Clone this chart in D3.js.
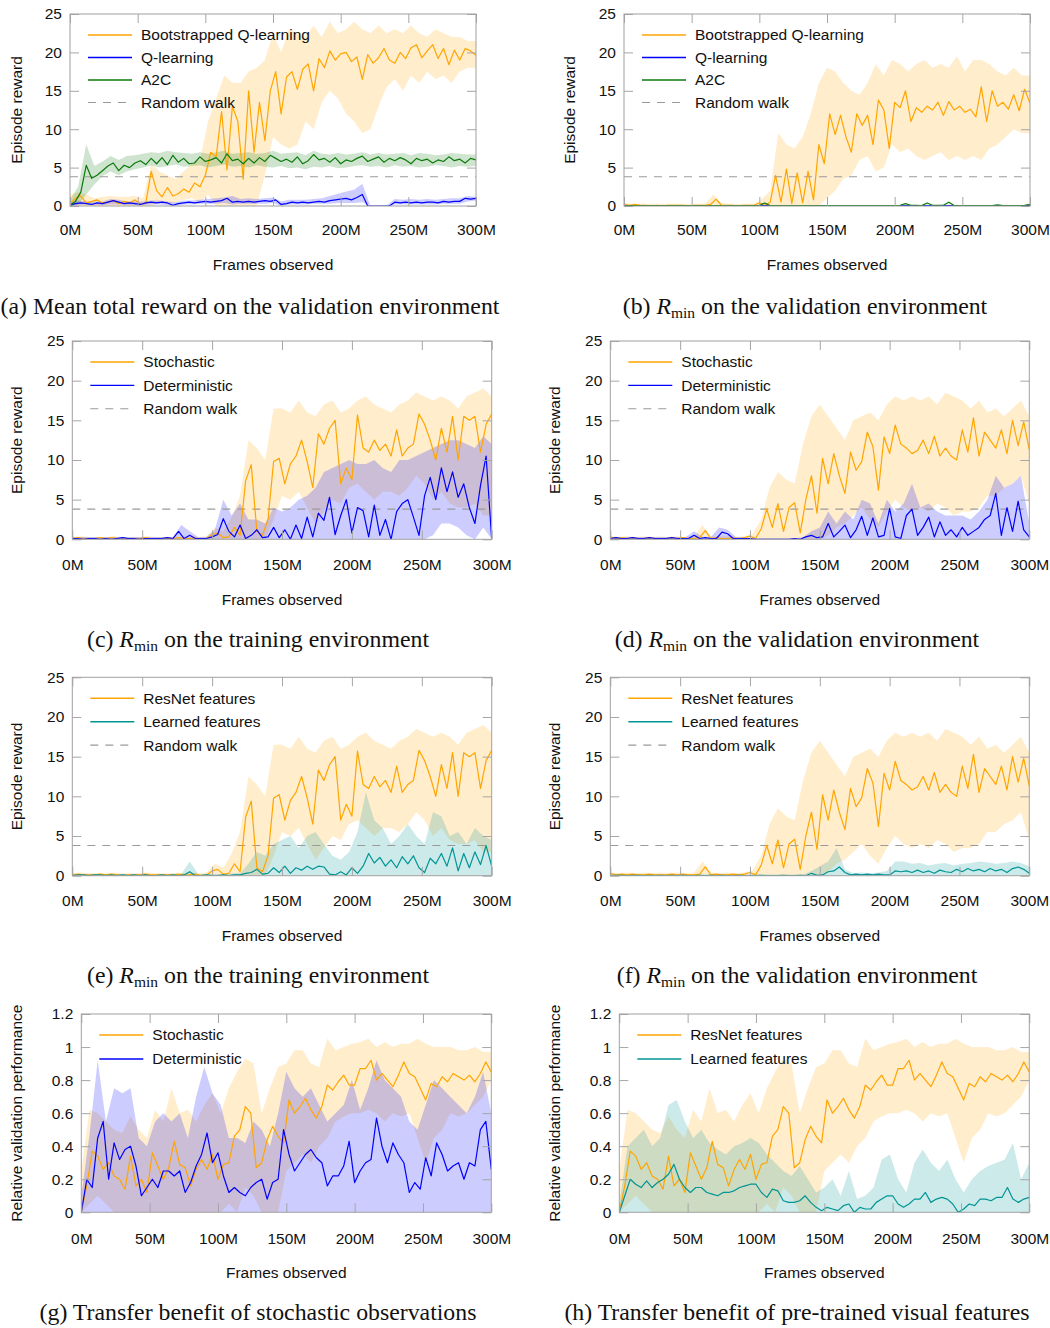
<!DOCTYPE html>
<html>
<head>
<meta charset="utf-8">
<script src="https://cdn.jsdelivr.net/npm/d3@7"></script>
<style>
  body { margin: 0; background: #fff; }
  svg { display: block; font-family: "Liberation Sans", Arial, Helvetica, sans-serif; }
  .tick line { stroke: #a6a6a6; }
  .tick text { font-family: "Liberation Sans", Arial, Helvetica, sans-serif; font-size: 15.5px; fill: #111; }
  .caption { font-family: "Liberation Serif", "Times New Roman", serif; font-size: 23.8px; fill: #111; }
</style>
</head>
<body>
<script>
////Axis ticks
const xTickValues = [0, 50, 100, 150, 200, 250, 300];
const xTickLabels = ['0M', '50M', '100M', '150M', '200M', '250M', '300M'];
const rewardTicks = [0, 5, 10, 15, 20, 25];
const rewardTickLabels = ['0', '5', '10', '15', '20', '25'];
const relTicks = [0, 0.2, 0.4, 0.6, 0.8, 1, 1.2];
const relTickLabels = ['0', '0.2', '0.4', '0.6', '0.8', '1', '1.2'];
const randomWalk = 3.8;

//// Data: means every 4M frames (0..300M), bands every 6M frames (0..300M)
// (a) mean total reward, validation
const aBootMean = [0.3, 1.0, 1.3, 0.4, 0.6, 0.8, 0.4, 0.5, 0.7, 0.3,
  0.6, 0.4, 0.8, 0.2, 0.4, 4.5, 2.0, 1.2, 2.4, 1.3,
  1.6, 2.2, 1.8, 3.0, 2.5, 4.0, 7.0, 6.4, 12.3, 4.7,
  13.0, 11.0, 3.5, 15.0, 7.0, 13.5, 8.5, 15.0, 17.5, 12.0,
  16.8, 17.5, 15.2, 17.8, 18.5, 15.0, 19.2, 18.0, 20.2, 19.0,
  19.8, 20.0, 18.8, 19.4, 16.5, 19.7, 18.6, 19.3, 20.5, 19.0,
  18.6, 20.0, 19.2, 20.6, 21.0, 19.3, 20.2, 21.0, 19.2, 20.5,
  18.4, 20.3, 19.0, 20.5, 20.2, 19.6];
const aBootHi = [1.5, 1.8, 1.5, 1.0, 1.2, 1.3, 1.2, 1.2, 1.3, 1.0,
  5.5, 4.5, 4.0, 3.5, 4.5, 5.5, 6.0, 11.0, 14.0, 17.0,
  16.0, 16.0, 17.5, 18.0, 19.0, 22.5, 20.0, 23.0, 22.5, 22.0,
  23.5, 22.0, 24.0, 22.5, 23.0, 24.0, 23.0, 22.5, 23.5, 22.5,
  23.0, 22.5, 23.5, 22.5, 22.0, 23.0, 22.5, 22.0, 22.0, 21.5,
  21.5];
const aBootLo = [0, 0, 0, 0, 0, 0, 0, 0, 0, 0,
  0, 0.5, 0.3, 0.5, 0.8, 1.0, 0.5, 1.5, 0, 0,
  0, 0, 0, 0, 4.0, 9.0, 8.0, 7.5, 8.0, 11.0,
  10.0, 13.5, 15.0, 14.0, 12.0, 11.0, 9.5, 10.0, 13.0, 15.5,
  16.5, 15.0, 17.0, 16.0, 17.5, 16.5, 17.0, 16.0, 17.5, 18.0,
  18.0];
const aQMean = [0.1, 0.3, 0.4, 0.3, 0.2, 0.4, 0.3, 0.5, 0.7, 0.5,
  0.3, 0.4, 0.3, 0.2, 0.4, 0.5, 0.4, 0.5, 0.4, 0.1,
  0.3, 0.4, 0.5, 0.4, 0.5, 0.6, 0.5, 0.6, 0.7, 1.0,
  0.5, 0.6, 0.5, 0.6, 0.5, 0.6, 0.7, 0.6, 0.8, 0.2,
  0.3, 0.5, 0.4, 0.5, 0.4, 0.5, 0.6, 0.5, 0.7, 0.8,
  0.9, 1.0, 0.8, 1.1, 1.5, 0.0, 0.0, 0.0, 0.0, 0.0,
  0.5, 0.4, 0.5, 0.4, 0.5, 0.4, 0.5, 0.5, 0.4, 0.6,
  0.5, 0.6, 0.6, 1.0, 0.9, 1.0];
const aQHi = [0.5, 0.7, 0.6, 0.6, 0.6, 0.9, 0.8, 0.6, 0.6, 0.6,
  0.7, 0.7, 0.6, 0.5, 0.7, 0.7, 0.8, 0.9, 1.0, 1.1,
  1.3, 0.9, 1.0, 0.9, 1.0, 1.1, 0.6, 0.8, 0.8, 0.8,
  0.9, 1.0, 1.3, 1.6, 1.9, 2.1, 2.9, 0.0, 0.0, 0.1,
  0.9, 0.8, 0.9, 0.8, 0.9, 0.8, 0.9, 1.0, 1.0, 1.3,
  1.2];
const aQLo = [0, 0.1, 0.2, 0.1, 0.1, 0.2, 0.2, 0.1, 0.1, 0.1,
  0.2, 0.2, 0.1, 0.0, 0.2, 0.2, 0.3, 0.3, 0.3, 0.4,
  0.2, 0.3, 0.3, 0.3, 0.3, 0.4, 0.0, 0.2, 0.2, 0.2,
  0.3, 0.3, 0.3, 0.4, 0.4, 0.4, 0.5, 0.0, 0.0, 0.0,
  0.2, 0.2, 0.2, 0.2, 0.2, 0.2, 0.3, 0.3, 0.3, 0.6,
  0.7];
const aA2CMean = [0.1, 0.6, 1.8, 5.3, 3.6, 4.0, 4.6, 5.2, 5.6, 4.6,
  5.3, 5.0, 5.6, 5.9, 5.4, 6.2, 5.5, 6.3, 5.4, 6.6,
  5.7, 6.2, 5.5, 5.6, 6.4, 5.8, 6.0, 6.3, 5.6, 6.8,
  5.9, 6.1, 5.5, 6.2, 5.6, 6.3, 5.8, 6.6, 6.2, 5.8,
  6.1, 5.7, 6.4, 5.5, 5.9, 6.7, 6.0, 6.2, 5.7, 6.3,
  5.5, 6.0, 5.8, 6.2, 6.5, 5.8, 6.1, 6.4, 5.7, 6.2,
  5.9, 6.3, 6.0, 5.5, 6.2, 5.9, 6.1, 5.6, 6.0, 5.8,
  6.4, 5.9, 6.1, 5.6, 6.2, 6.0];
const aA2CHi = [0.8, 2.5, 8.0, 5.2, 5.8, 6.5, 6.0, 6.5, 6.6, 6.8,
  7.0, 6.9, 7.2, 7.0, 6.9, 6.8, 7.0, 6.8, 7.0, 7.2,
  6.8, 6.9, 7.0, 6.8, 6.9, 7.2, 6.8, 6.9, 7.0, 6.6,
  7.2, 6.8, 6.7, 6.9, 6.7, 6.8, 7.0, 6.7, 6.9, 6.7,
  6.8, 6.9, 6.6, 6.9, 6.8, 6.6, 6.7, 6.9, 6.8, 6.7,
  6.7];
const aA2CLo = [0.0, 0.2, 1.5, 2.8, 3.9, 4.5, 4.0, 4.5, 4.8, 5.0,
  5.3, 5.0, 5.2, 5.4, 5.1, 5.2, 5.3, 5.0, 5.2, 5.4,
  5.1, 5.2, 5.0, 5.3, 5.1, 5.0, 5.2, 4.9, 5.0, 4.8,
  5.1, 5.0, 5.2, 4.9, 5.0, 5.2, 5.3, 5.1, 5.2, 5.0,
  5.3, 5.1, 5.2, 5.0, 5.1, 5.3, 5.2, 5.0, 5.2, 5.1,
  5.2];

// (b) R_min, validation
const bBootMean = [0.2, 0.1, 0.2, 0.1, 0.1, 0.0, 0.1, 0.0, 0.1, 0.1,
  0.1, 0.1, 0.0, 0.1, 0.1, 0.1, 0.2, 0.9, 0.1, 0.1,
  0.1, 0.0, 0.1, 0.1, 0.1, 0.4, 0.1, 0.5, 4.0, 0.5,
  4.8, 0.3, 4.3, 0.4, 4.5, 0.8, 8.0, 5.5, 12.0, 9.3,
  11.8, 9.0, 7.0, 12.0, 10.5, 11.8, 8.0, 13.8, 12.5, 7.5,
  13.5, 12.8, 15.0, 11.0, 12.8, 12.2, 13.0, 12.5, 13.5, 11.8,
  13.6, 12.5, 13.0, 12.2, 12.6, 11.6, 15.5, 11.0, 15.0, 13.0,
  13.5, 12.6, 14.5, 12.4, 15.2, 13.4];
const bBootHi = [0.4, 0.3, 0.3, 0.3, 0.3, 0.3, 0.3, 0.3, 0.3, 0.3,
  0.3, 1.5, 0.4, 0.3, 0.3, 0.3, 0.3, 0.9, 2.0, 9.5,
  8.0, 7.5, 9.0, 12.0, 16.0, 18.0, 17.5, 16.0, 15.0, 14.5,
  16.0, 18.5, 17.0, 19.0, 18.5, 17.5, 18.5, 19.0, 18.0, 18.5,
  18.0, 19.5, 17.5, 19.0, 19.0, 18.5, 17.5, 17.0, 18.0, 17.0,
  17.0];
const bBootLo = [0, 0, 0, 0, 0, 0, 0, 0, 0, 0,
  0, 0, 0, 0, 0, 0, 0, 0, 0, 0,
  0, 0, 0, 0, 0, 1.0, 2.0, 3.5, 4.0, 6.0,
  6.5, 4.5, 5.0, 8.0, 7.0, 7.5, 6.5, 6.0, 6.5, 7.0,
  6.0, 6.5, 6.0, 6.5, 6.0, 7.5, 8.0, 9.0, 10.0, 9.5,
  9.5];
const bQMean = [0.05, 0.04, 0.05, 0.05, 0.04, 0.05, 0.05, 0.06, 0.05, 0.05,
  0.06, 0.05, 0.05, 0.06, 0.05, 0.05];
const bA2CMean = [0.05, 0.05, 0.05, 0.05, 0.05, 0.05, 0.05, 0.05, 0.05, 0.05,
  0.05, 0.05, 0.05, 0.05, 0.05, 0.05, 0.05, 0.05, 0.05, 0.05,
  0.05, 0.05, 0.05, 0.05, 0.05, 0.1, 0.4, 0.05, 0.05, 0.05,
  0.05, 0.05, 0.05, 0.05, 0.05, 0.05, 0.05, 0.05, 0.05, 0.05,
  0.05, 0.05, 0.05, 0.05, 0.05, 0.05, 0.05, 0.05, 0.05, 0.05,
  0.05, 0.1, 0.3, 0.1, 0.1, 0.05, 0.4, 0.1, 0.1, 0.1,
  0.5, 0.05, 0.05, 0.05, 0.05, 0.05, 0.05, 0.05, 0.05, 0.15,
  0.05, 0.05, 0.05, 0.05, 0.1, 0.2];

// (c) R_min, training: stochastic vs deterministic  (stochastic reused in (e))
const cStochMean = [0.1, 0.2, 0.1, 0.1, 0.1, 0.2, 0.1, 0.2, 0.1, 0.0,
  0.1, 0.1, 0.1, 0.2, 0.1, 0.1, 0.1, 0.1, 0.1, 0.2,
  0.1, 0.1, 0.2, 0.0, 0.1, 0.6, 0.8, 0.2, 0.3, 1.5,
  0.5, 7.4, 9.4, 1.0, 0.5, 2.5, 9.8, 10.2, 7.0, 9.5,
  10.5, 12.5, 9.8, 6.5, 13.3, 12.0, 14.0, 15.0, 7.0, 9.0,
  7.5, 15.7, 11.5, 11.0, 12.5, 11.2, 12.0, 10.5, 13.8, 10.5,
  11.5, 12.0, 15.8, 14.5, 12.5, 10.0, 14.0, 11.0, 15.5, 10.0,
  15.5, 15.0, 15.5, 11.0, 14.5, 15.8];
const cStochHi = [0.3, 0.4, 0.3, 0.3, 0.3, 0.4, 0.3, 0.3, 0.3, 0.4,
  0.3, 0.3, 0.3, 0.3, 0.4, 0.3, 0.4, 1.5, 1.0, 2.8,
  5.5, 12.5, 11.5, 10.0, 16.5, 16.5, 16.0, 17.5, 16.0, 15.5,
  17.0, 17.5, 16.0, 16.5, 17.5, 18.0, 17.0, 16.5, 16.0, 17.0,
  17.5, 18.5, 18.0, 17.5, 18.0, 17.5, 16.5, 18.0, 18.5, 19.0,
  18.0];
const cStochLo = [0, 0, 0, 0, 0, 0, 0, 0, 0, 0,
  0, 0, 0, 0, 0, 0, 0, 0, 0, 0,
  0, 0, 0, 0, 2.5, 5.5, 5.0, 6.0, 4.0, 2.0,
  3.5, 5.0, 4.5, 6.5, 7.0, 6.0, 5.0, 6.0, 6.0, 5.5,
  6.5, 8.0, 7.0, 5.0, 6.0, 4.5, 4.0, 4.0, 4.5, 3.0,
  3.0];
const cDetMean = [0.1, 0.1, 0.0, 0.1, 0.1, 0.0, 0.1, 0.0, 0.1, 0.2,
  0.1, 0.1, 0.0, 0.1, 0.1, 0.1, 0.1, 0.2, 0.1, 1.0,
  0.1, 0.5, 0.1, 0.1, 0.1, 0.3, 0.6, 2.6, 1.0, 0.3,
  1.8, 0.1, 0.5, 1.2, 0.2, 0.3, 1.5, 0.2, 1.2, 0.0,
  1.8, 0.1, 2.8, 0.3, 3.3, 2.4, 5.3, 0.6, 3.0, 5.0,
  0.8, 4.0, 3.6, 0.3, 4.3, 0.5, 2.5, 0.0, 3.5, 4.5,
  5.0, 2.8, 0.5, 5.5, 7.8, 5.0, 9.0, 6.0, 8.5, 5.3,
  7.0, 4.0, 2.0, 6.8, 10.5, 0.0];
const cDetHi = [0.3, 0.3, 0.3, 0.3, 0.3, 0.3, 0.3, 0.3, 0.3, 0.3,
  0.3, 0.3, 0.3, 1.8, 1.0, 0.3, 0.3, 1.2, 5.0, 3.0,
  4.5, 2.5, 2.5, 2.0, 4.0, 3.5, 4.0, 5.0, 5.5, 6.5,
  8.5, 9.0, 9.5, 10.0, 9.5, 9.5, 10.0, 9.0, 8.5, 10.0,
  10.0, 10.5, 11.0, 11.5, 12.0, 12.5, 12.5, 12.0, 11.5, 13.0,
  12.0];
const cDetLo = [0, 0, 0, 0, 0, 0, 0, 0, 0, 0,
  0, 0, 0, 0, 0, 0, 0, 0, 0, 0,
  0, 0, 0, 0, 0, 0, 0, 0, 0, 0,
  0, 0, 0, 0, 0, 0, 0, 0, 0, 0,
  0, 0, 0, 0.5, 2.0, 2.0, 1.5, 0.5, 0, 1.5,
  0];

// (d) R_min, validation: stochastic vs deterministic  (stochastic reused in (f))
const dStochMean = [0.3, 0.1, 0.2, 0.1, 0.2, 0.1, 0.1, 0.2, 0.1, 0.1,
  0.1, 0.2, 0.1, 0.2, 0.1, 0.1, 0.2, 1.1, 0.1, 0.2,
  0.1, 0.1, 0.2, 0.1, 0.2, 0.4, 0.1, 1.3, 3.8, 1.5,
  4.5, 1.0, 4.0, 4.6, 0.8, 5.0, 8.0, 3.3, 10.2, 7.0,
  10.8, 8.0, 5.8, 11.0, 8.7, 9.8, 13.5, 11.7, 6.2, 12.9,
  10.8, 14.4, 12.0, 11.5, 10.8, 11.2, 12.5, 10.8, 13.0, 10.5,
  11.5, 10.5, 10.0, 13.8, 11.0, 15.3, 10.5, 13.5, 12.5, 11.5,
  13.8, 10.8, 15.0, 11.8, 14.8, 11.3];
const dStochHi = [0.4, 0.3, 0.4, 0.3, 0.4, 0.3, 0.4, 0.3, 0.4, 0.3,
  0.4, 1.8, 0.4, 0.3, 0.4, 0.3, 0.4, 0.7, 2.5, 6.5,
  8.5, 7.5, 7.0, 12.0, 15.5, 17.0, 15.5, 14.0, 12.5, 15.0,
  15.5, 16.0, 15.0, 17.0, 18.0, 17.5, 18.0, 17.5, 18.0, 17.0,
  18.5, 18.0, 17.5, 16.5, 17.5, 16.0, 16.5, 15.5, 16.5, 17.5,
  15.5];
const dStochLo = [0, 0, 0, 0, 0, 0, 0, 0, 0, 0,
  0, 0, 0, 0, 0, 0, 0, 0, 0, 0,
  0, 0, 0, 0, 0, 0, 0.5, 1.5, 2.0, 3.0,
  4.0, 2.5, 1.5, 3.5, 5.0, 4.0, 3.5, 4.0, 3.5, 4.5,
  4.0, 3.0, 3.5, 3.5, 4.0, 5.5, 5.5, 6.5, 7.0, 8.0,
  4.5];
const dDetMean = [0.1, 0.2, 0.1, 0.1, 0.2, 0.1, 0.1, 0.2, 0.1, 0.1,
  0.1, 0.2, 0.1, 0.1, 0.1, 0.5, 0.1, 0.2, 0.1, 0.1,
  0.9, 0.7, 0.1, 0.1, 0.1, 0.1, 0.0, 0.0, 0.0, 0.0,
  0.0, 0.0, 0.0, 0.1, 0.0, 0.3, 0.5, 0.2, 0.3, 2.0,
  0.3, 1.0, 1.8, 0.2, 1.2, 2.9, 0.5, 2.7, 0.3, 0.5,
  3.9, 0.3, 0.1, 3.0, 3.8, 0.5, 1.5, 2.8, 0.3, 2.2,
  0.5, 1.2, 0.3, 1.5, 0.5, 1.0, 1.5, 2.5, 3.0, 5.8,
  0.5, 4.0, 1.0, 4.8, 1.2, 0.3];
const dDetHi = [0.3, 0.3, 0.3, 0.3, 0.3, 0.3, 0.3, 0.3, 0.3, 0.3,
  1.0, 0.3, 0.3, 1.5, 1.2, 0.3, 0.3, 0.1, 0.1, 0.1,
  0.1, 0.1, 0.1, 0.3, 1.0, 1.5, 3.5, 2.0, 3.5, 2.5,
  5.0, 4.5, 2.0, 5.0, 3.5, 4.5, 7.0, 4.0, 4.5, 3.5,
  3.0, 3.0, 3.0, 2.5, 3.5, 5.0, 8.0, 6.5, 7.0, 8.0,
  2.0];

// (e) learned features, training
const eLearnedMean = [0.0, 0.1, 0.1, 0.0, 0.1, 0.1, 0.0, 0.1, 0.0, 0.1,
  0.0, 0.1, 0.0, 0.1, 0.0, 0.0, 0.1, 0.0, 0.1, 0.0,
  0.1, 0.5, 0.0, 0.0, 0.1, 0.0, 0.0, 0.1, 0.0, 0.1,
  0.1, 0.3, 0.4, 0.8, 0.2, 0.3, 1.0, 0.4, 1.2, 0.3,
  1.0, 0.7, 1.2, 0.8, 1.2, 1.1, 0.2, 0.1, 0.5, 0.1,
  1.0, 0.3, 1.2, 2.8, 1.6, 2.3, 1.2, 2.0, 1.0, 2.4,
  1.5, 2.5, 1.0, 0.4, 2.2, 1.5, 2.8, 1.2, 3.5, 0.6,
  2.8, 1.0, 3.0, 1.4, 3.8, 1.2];
const eLearnedHi = [0.2, 0.2, 0.2, 0.2, 0.2, 0.2, 0.2, 0.2, 0.2, 0.2,
  0.2, 0.2, 0.2, 0.2, 1.8, 0.2, 0.2, 0.2, 0.2, 0.3,
  0.3, 1.5, 3.0, 2.5, 4.0, 4.5, 5.0, 3.5, 5.0, 5.5,
  4.0, 2.5, 2.0, 3.0, 5.5, 10.5, 7.0, 6.0, 4.0, 5.0,
  6.5, 5.0, 4.0, 8.0, 7.5, 5.0, 5.5, 4.0, 6.0, 5.0,
  4.5];

// (f) learned features, validation
const fLearnedMean = [0.0, 0.05, 0.05, 0.0, 0.05, 0.05, 0.0, 0.05, 0.0, 0.05,
  0.0, 0.05, 0.0, 0.05, 0.0, 0.0, 0.05, 0.0, 0.05, 0.0,
  0.05, 0.0, 0.0, 0.05, 0.0, 0.0, 0.0, 0.05, 0.0, 0.0,
  0.0, 0.05, 0.0, 0.0, 0.05, 0.0, 0.3, 0.05, 0.1, 0.5,
  0.6, 1.1, 0.4, 0.1, 0.2, 0.1, 0.2, 0.1, 0.2, 0.1,
  0.1, 0.6, 0.5, 0.6, 0.4, 0.7, 0.4, 0.6, 0.3, 0.7,
  0.5, 0.4, 0.8, 0.5, 0.9, 0.6, 0.8, 0.5, 0.9, 0.6,
  0.8, 0.4, 0.9, 1.1, 0.8, 0.3];
const fLearnedHi = [0.15, 0.15, 0.15, 0.15, 0.15, 0.15, 0.15, 0.15, 0.15, 0.15,
  0.15, 0.15, 0.15, 0.15, 0.15, 0.15, 0.15, 0.15, 0.15, 0.15,
  0.15, 0.15, 0.15, 0.15, 0.6, 1.2, 1.8, 3.5, 0.8, 0.3,
  0.4, 0.3, 0.4, 0.6, 1.8, 1.8, 1.5, 1.6, 1.3, 1.5,
  1.6, 1.3, 1.5, 1.6, 1.8, 1.7, 1.5, 1.6, 1.8, 1.6,
  1.2];

// (g) relative validation performance: stochastic vs deterministic (stochastic reused in (h))
const gStochMean = [0.0, 0.16, 0.37, 0.34, 0.26, 0.3, 0.22, 0.2, 0.14, 0.34,
  0.16, 0.2, 0.12, 0.36, 0.28, 0.2, 0.27, 0.43, 0.29, 0.27,
  0.16, 0.26, 0.32, 0.26, 0.35, 0.2, 0.29, 0.3, 0.46, 0.5,
  0.64, 0.6, 0.27, 0.3, 0.44, 0.52, 0.46, 0.42, 0.68, 0.6,
  0.64, 0.69, 0.62, 0.57, 0.64, 0.77, 0.74, 0.79, 0.83, 0.77,
  0.77, 0.87, 0.87, 0.92, 0.8, 0.84, 0.8, 0.76, 0.83, 0.91,
  0.84, 0.82, 0.75, 0.68, 0.78, 0.76, 0.82, 0.79, 0.84, 0.82,
  0.8, 0.83, 0.79, 0.84, 0.91, 0.85];
const gStochHi = [0.25, 0.62, 0.6, 0.55, 0.5, 0.48, 0.58, 0.5, 0.45, 0.62,
  0.55, 0.75, 0.6, 0.62, 0.55, 0.65, 0.72, 0.6, 0.75, 0.85,
  0.93, 0.9, 0.6, 0.75, 0.88, 0.9, 0.98, 0.98, 0.9, 0.88,
  1.05, 0.98, 1.0, 1.02, 1.03, 1.05, 1.0, 1.03, 1.0, 1.02,
  1.02, 1.05, 1.02, 1.0, 1.0, 1.0, 0.98, 0.98, 1.0, 0.97,
  0.97];
const gStochLo = [0, 0.05, 0.1, 0.05, 0, 0, 0, 0, 0, 0,
  0, 0, 0, 0, 0, 0, 0, 0, 0.05, 0,
  0.15, 0.1, 0, 0, 0, 0.25, 0.3, 0.35, 0.3, 0.4,
  0.45, 0.55, 0.58, 0.6, 0.6, 0.62, 0.6, 0.55, 0.6, 0.58,
  0.6, 0.45, 0.3, 0.45, 0.5, 0.6, 0.58, 0.6, 0.65, 0.7,
  0.8];
const gDetMean = [0.0, 0.2, 0.15, 0.45, 0.55, 0.2, 0.42, 0.32, 0.38, 0.4,
  0.28, 0.1, 0.15, 0.2, 0.15, 0.25, 0.25, 0.22, 0.25, 0.12,
  0.18, 0.28, 0.35, 0.48, 0.3, 0.36, 0.22, 0.12, 0.15, 0.12,
  0.1, 0.15, 0.18, 0.2, 0.08, 0.18, 0.2, 0.5, 0.35, 0.25,
  0.3, 0.35, 0.38, 0.33, 0.3, 0.16, 0.22, 0.22, 0.28, 0.43,
  0.18, 0.25, 0.3, 0.32, 0.57, 0.4, 0.3, 0.42, 0.35, 0.3,
  0.12, 0.18, 0.14, 0.33, 0.22, 0.42, 0.35, 0.25, 0.28, 0.3,
  0.2, 0.3, 0.28, 0.5, 0.55, 0.26];
const gDetHi = [0.1, 0.47, 0.92, 0.55, 0.75, 0.72, 0.75, 0.45, 0.4, 0.55,
  0.6, 0.55, 0.6, 0.45, 0.7, 0.88, 0.72, 0.65, 0.45, 0.45,
  0.42, 0.55, 0.5, 0.4, 0.6, 0.85, 0.75, 0.7, 0.75, 0.65,
  0.55, 0.6, 0.65, 0.8, 0.62, 0.75, 0.92, 0.8, 0.75, 0.7,
  0.55, 0.5, 0.65, 0.8, 0.75, 0.7, 0.65, 0.6, 0.7, 0.85,
  0.6];

// (h) learned features, relative validation performance
const hLearnedMean = [0.0, 0.1, 0.2, 0.17, 0.15, 0.19, 0.15, 0.18, 0.2, 0.23,
  0.29, 0.2, 0.15, 0.12, 0.15, 0.15, 0.12, 0.11, 0.1, 0.12,
  0.12, 0.13, 0.15, 0.16, 0.17, 0.17, 0.12, 0.09, 0.14, 0.13,
  0.07, 0.06, 0.06, 0.07, 0.1, 0.06, 0.03, 0.01, 0.03, 0.02,
  0.01, 0.04, 0.05, 0.0, 0.03, 0.02, 0.02, 0.06, 0.08, 0.1,
  0.1, 0.05, 0.03, 0.05, 0.08, 0.08, 0.12, 0.06, 0.08, 0.09,
  0.08, 0.05, 0.0, 0.02, 0.05, 0.04, 0.08, 0.08, 0.07, 0.09,
  0.09, 0.15, 0.08, 0.06, 0.08, 0.09];
const hLearnedHi = [0.05, 0.4, 0.45, 0.5, 0.4, 0.45, 0.65, 0.68, 0.55, 0.45,
  0.5, 0.42, 0.38, 0.35, 0.4, 0.42, 0.45, 0.42, 0.35, 0.3,
  0.25, 0.22, 0.28, 0.2, 0.12, 0.15, 0.2, 0.1, 0.25, 0.08,
  0.1, 0.15, 0.32, 0.35, 0.2, 0.12, 0.3, 0.38, 0.3, 0.25,
  0.32, 0.2, 0.12, 0.2, 0.25, 0.28, 0.3, 0.32, 0.42, 0.2,
  0.3];

//// Layout
const width = 1050;
const height = 1328;
const tickLen = 9;
const fontSize = 15.5;
const colors = { orange: '#ffa500', blue: '#0000ff', green: '#0b7a0b', teal: '#009494', walk: '#9a9a9a' };

const svg = d3.select('body').append('svg')
  .attr('width', width)
  .attr('height', height);

const rows = [
  { top: 14, bottom: 206, tickPad: 18.3, titleOff: 63.5, gap: 22.5 },
  { top: 341, bottom: 539.3, tickPad: 19.8, titleOff: 65.7, gap: 23.4 },
  { top: 677.3, bottom: 875.7, tickPad: 19.8, titleOff: 65.7, gap: 23.4 },
  { top: 1014, bottom: 1212.3, tickPad: 20.3, titleOff: 66, gap: 24 }
];

const rminCaption = (tag, env) => [{ t: tag + ' ' }, { t: 'R', italic: true }, { t: 'min', sub: true }, { t: ' on the ' + env + ' environment' }];

const boot = [
  { label: 'Bootstrapped Q-learning', color: colors.orange },
  { label: 'Q-learning', color: colors.blue },
  { label: 'A2C', color: colors.green }
];
const stochDet = [{ label: 'Stochastic', color: colors.orange }, { label: 'Deterministic', color: colors.blue }];
const resLearned = [{ label: 'ResNet features', color: colors.orange }, { label: 'Learned features', color: colors.teal }];

const panels = [
  { row: 0, left: 70, right: 476, titleX: 17, capX: 250, legend: boot, walk: true,
    series: [
      { mean: aBootMean, hi: aBootHi, lo: aBootLo, color: colors.orange },
      { mean: aQMean, hi: aQHi, lo: aQLo, color: colors.blue },
      { mean: aA2CMean, hi: aA2CHi, lo: aA2CLo, color: colors.green }],
    caption: [{ t: '(a) Mean total reward on the validation environment' }] },
  { row: 0, left: 624, right: 1030, titleX: 570, capX: 805, legend: boot, walk: true,
    series: [
      { mean: bBootMean, hi: bBootHi, lo: bBootLo, color: colors.orange },
      { mean: bQMean, color: colors.blue },
      { mean: bA2CMean, color: colors.green }],
    caption: rminCaption('(b)', 'validation') },
  { row: 1, left: 72.3, right: 491.7, titleX: 17, capX: 258, legend: stochDet, walk: true,
    series: [
      { mean: cStochMean, hi: cStochHi, lo: cStochLo, color: colors.orange },
      { mean: cDetMean, hi: cDetHi, lo: cDetLo, color: colors.blue }],
    caption: rminCaption('(c)', 'training') },
  { row: 1, left: 610.3, right: 1029.3, titleX: 555, capX: 797, legend: stochDet, walk: true,
    series: [
      { mean: dStochMean, hi: dStochHi, lo: dStochLo, color: colors.orange },
      { mean: dDetMean, hi: dDetHi, color: colors.blue }],
    caption: rminCaption('(d)', 'validation') },
  { row: 2, left: 72.3, right: 491.7, titleX: 17, capX: 258, legend: resLearned, walk: true,
    series: [
      { mean: cStochMean, hi: cStochHi, lo: cStochLo, color: colors.orange },
      { mean: eLearnedMean, hi: eLearnedHi, color: colors.teal }],
    caption: rminCaption('(e)', 'training') },
  { row: 2, left: 610.3, right: 1029.3, titleX: 555, capX: 797, legend: resLearned, walk: true,
    series: [
      { mean: dStochMean, hi: dStochHi, lo: dStochLo, color: colors.orange },
      { mean: fLearnedMean, hi: fLearnedHi, color: colors.teal }],
    caption: rminCaption('(f)', 'validation') },
  { row: 3, left: 81.3, right: 491.3, titleX: 17, capX: 258, legend: stochDet, walk: false, rel: true,
    series: [
      { mean: gStochMean, hi: gStochHi, lo: gStochLo, color: colors.orange },
      { mean: gDetMean, hi: gDetHi, color: colors.blue }],
    caption: [{ t: '(g) Transfer benefit of stochastic observations' }] },
  { row: 3, left: 619.3, right: 1029.3, titleX: 555, capX: 797, legend: resLearned, walk: false, rel: true,
    series: [
      { mean: gStochMean, hi: gStochHi, lo: gStochLo, color: colors.orange },
      { mean: hLearnedMean, hi: hLearnedHi, color: colors.teal }],
    caption: [{ t: '(h) Transfer benefit of pre-trained visual features' }] }
];

panels.forEach((p, idx) => drawPanel(p, idx));

function drawPanel(p, idx) {
  const r = rows[p.row];
  const yTicks = p.rel ? relTicks : rewardTicks;
  const yLabels = p.rel ? relTickLabels : rewardTickLabels;
  const x = d3.scaleLinear().domain([0, 300]).range([p.left, p.right]);
  const y = d3.scaleLinear().domain([0, p.rel ? 1.2 : 25]).range([r.bottom, r.top]);
  const xi = arr => (d, i) => x(i * 300 / (arr.length - 1));

  const g = svg.append('g');
  const clipId = 'clip-' + idx;
  g.append('clipPath').attr('id', clipId).append('rect')
    .attr('x', p.left).attr('y', r.top)
    .attr('width', p.right - p.left).attr('height', r.bottom - r.top);
  const plot = g.append('g').attr('clip-path', `url(#${clipId})`);

  // bands
  p.series.filter(s => s.hi).forEach(s => {
    const area = d3.area()
      .x(xi(s.hi))
      .y0((d, i) => y(s.lo ? s.lo[i] : 0))
      .y1(d => y(d));
    plot.append('path').datum(s.hi)
      .attr('d', area)
      .attr('fill', s.color)
      .attr('fill-opacity', 0.2);
  });

  if (p.walk) {
    plot.append('path').datum([0, 300])
      .attr('d', d3.line().x(d => x(d)).y(() => y(randomWalk)))
      .attr('stroke', colors.walk)
      .attr('stroke-width', 1.1)
      .attr('stroke-dasharray', '8,7')
      .attr('fill', 'none');
  }

  // mean lines
  p.series.forEach(s => {
    plot.append('path').datum(s.mean)
      .attr('d', d3.line().x(xi(s.mean)).y(d => y(d)))
      .attr('fill', 'none')
      .attr('stroke', s.color)
      .attr('stroke-width', 1.2)
      .attr('stroke-linejoin', 'round');
  });

  // axes (ticks inward on all four sides)
  const noDomain = a => a.select('.domain').remove();
  g.append('g').attr('transform', `translate(0,${r.bottom})`)
    .call(d3.axisBottom(x).tickValues(xTickValues).tickFormat((d, i) => xTickLabels[i])
      .tickSize(-tickLen).tickPadding(r.tickPad))
    .call(noDomain);
  g.append('g').attr('transform', `translate(0,${r.top})`)
    .call(d3.axisTop(x).tickValues(xTickValues).tickFormat('').tickSize(-tickLen))
    .call(noDomain);
  g.append('g').attr('transform', `translate(${p.left},0)`)
    .call(d3.axisLeft(y).tickValues(yTicks).tickFormat((d, i) => yLabels[i])
      .tickSize(-tickLen).tickPadding(8))
    .call(noDomain);
  g.append('g').attr('transform', `translate(${p.right},0)`)
    .call(d3.axisRight(y).tickValues(yTicks).tickFormat('').tickSize(-tickLen))
    .call(noDomain);

  g.append('rect')
    .attr('x', p.left).attr('y', r.top)
    .attr('width', p.right - p.left).attr('height', r.bottom - r.top)
    .attr('fill', 'none')
    .attr('stroke', '#a0a0a0')
    .attr('stroke-width', 1);

  // axis titles
  g.append('text')
    .attr('x', (p.left + p.right) / 2)
    .attr('y', r.bottom + r.titleOff)
    .attr('text-anchor', 'middle')
    .attr('font-size', fontSize)
    .attr('fill', '#111')
    .text('Frames observed');
  g.append('text')
    .attr('transform', `translate(${p.titleX},${(r.top + r.bottom) / 2}) rotate(-90)`)
    .attr('text-anchor', 'middle')
    .attr('dy', '0.35em')
    .attr('font-size', fontSize)
    .attr('fill', '#111')
    .text(p.rel ? 'Relative validation performance' : 'Episode reward');

  // legend
  const entries = p.legend.slice();
  if (p.walk) entries.push({ label: 'Random walk', color: colors.walk, dashed: true });
  entries.forEach((e, i) => {
    const ly = r.top + 21 + i * r.gap;
    g.append('line')
      .attr('x1', p.left + 18).attr('x2', p.left + 62)
      .attr('y1', ly).attr('y2', ly)
      .attr('stroke', e.color)
      .attr('stroke-width', e.dashed ? 1.1 : 1.4)
      .attr('stroke-dasharray', e.dashed ? '8,7' : null);
    g.append('text')
      .attr('x', p.left + 71)
      .attr('y', ly)
      .attr('dy', '0.35em')
      .attr('font-size', fontSize)
      .attr('fill', '#111')
      .text(e.label);
  });

  // caption
  const cap = g.append('text')
    .attr('class', 'caption')
    .attr('x', p.capX)
    .attr('y', r.bottom + 107.5)
    .attr('text-anchor', 'middle');
  let shifted = false;
  p.caption.forEach(part => {
    const ts = cap.append('tspan').text(part.t);
    if (part.italic) ts.attr('font-style', 'italic');
    if (part.sub) { ts.attr('font-size', '15.5px').attr('dy', 4); shifted = true; }
    else if (shifted) { ts.attr('dy', -4); shifted = false; }
  });
}
</script>
</body>
</html>
